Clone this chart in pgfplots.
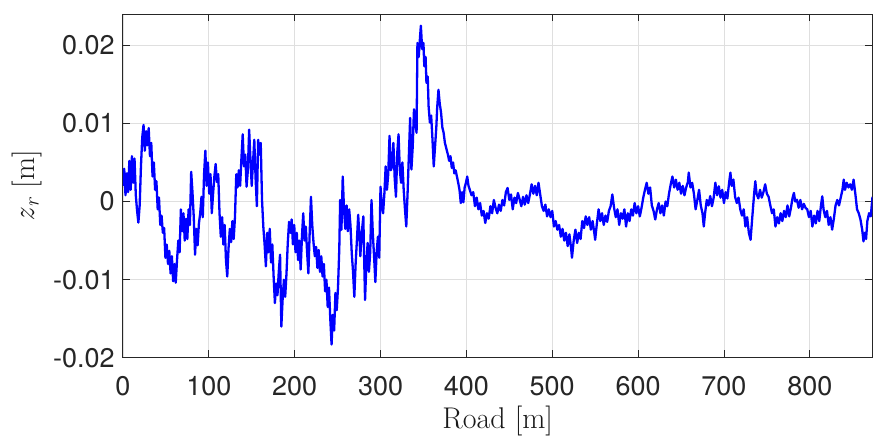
\documentclass[border=0pt]{standalone}
\usepackage{fontspec}
\usepackage{pgfplots}
\pgfplotsset{compat=1.18}
\newfontfamily\heros{TeX Gyre Heros}
\definecolor{axgray}{RGB}{38,38,38}
\definecolor{gridgray}{RGB}{223,223,223}
\begin{document}
\begin{tikzpicture}
\begin{axis}[
  at={(0,0)}, anchor=south west,
  scale only axis, width=750pt, height=344pt,
  xmin=0, xmax=873, ymin=-20, ymax=24,
  xtick={0,100,200,300,400,500,600,700,800},
  ytick={-20,-10,0,10,20},
  yticklabels={-0.02,-0.01,0,0.01,0.02},
  /pgf/number format/assume math mode=true,
  tick align=inside,
  major tick length=7.5pt,
  grid=major,
  major grid style={draw=gridgray, line width=0.8pt},
  axis line style={draw=axgray, line width=0.9pt},
  tick style={draw=axgray, line width=0.9pt},
  ticklabel style={font=\heros\fontsize{27}{32}\selectfont, text=axgray, inner sep=0pt},
  xticklabel style={anchor=north, yshift=-18pt},
  yticklabel style={anchor=east, xshift=-8pt},
  xlabel={Road [m]},
  ylabel={\textit{z}\textsubscript{\textit{r}} [m]},
  label style={font=\fontsize{30}{36}\selectfont, text=black!90},
  xlabel style={at={(axis description cs:0.5,0)}, anchor=base, yshift=-70.3pt},
  ylabel style={at={(axis description cs:-0.1273,0.5)}, anchor=center},
]
\addplot[color={rgb,255:red,0;green,0;blue,255}, line width=2.3pt, line join=round] coordinates {
(0,2.0) (1.5,4.2) (3,0.8) (4.5,3.6) (6,1.2) (7.5,5.2) (9,1.5) (10.5,5.8) (12,2.4) (13.5,5.5)
(15,0.8) (16.5,-1.2) (18,-2.7) (19.5,-0.5) (21,4.5) (22.5,8.2) (24,9.8) (25.5,6.5) (27,9.0) (28.5,7.2)
(30,9.4) (31.5,5.8) (33,7.5) (34.5,3.2) (36,5.0) (37.5,1.5) (39,2.6) (40.5,-1.0) (42,0.5) (43.5,-3.0)
(45,-1.8) (46.5,-4.0) (48,-3.4) (49.5,-7.2) (51,-5.5) (52.5,-8.0) (54,-6.3) (55.5,-9.2) (57,-7.0) (58.5,-10.2)
(60,-8.0) (61.5,-10.4) (63,-7.5) (64.5,-5.0) (66,-6.5) (67.5,-1.0) (69,-3.8) (70.5,-1.5) (72,-5.0) (73.5,-2.2)
(75,-4.8) (76.5,-1.0) (78,-3.0) (79.5,3.8) (81,1.2) (82.5,-2.0) (84,-6.8) (85.5,-3.5) (87,-5.6) (88.5,-2.8)
(90,-1.5) (91.5,0.6) (93,-2.0) (94.5,3.5) (96,6.5) (97.5,2.0) (99,5.0) (100.5,1.0) (102,3.5) (103.5,-1.5)
(105,1.0) (106.5,3.2) (108,4.8) (109.5,2.5) (111,3.5) (112.5,-1.5) (114,-4.5) (115.5,-2.0) (117,-5.5) (118.5,-3.0)
(120,-7.5) (121.5,-9.6) (123,-6.0) (124.5,-3.5) (126,-5.2) (127.5,-2.5) (129,-4.8) (130.5,-2.0) (132,3.5) (133.5,1.8)
(135,4.0) (136.5,2.0) (138,5.5) (139.5,8.6) (141,4.5) (142.5,6.0) (144,1.9) (145.5,4.0) (147,9.2) (148.5,5.5)
(150,2.0) (151.5,5.0) (153,7.9) (154.5,3.0) (156,-0.6) (157.5,7.9) (159,6.0) (160.5,7.5) (162,0.2) (163.5,-3.2)
(165,-5.5) (166.5,-8.3) (168,-4.0) (169.5,-6.5) (171,-3.5) (172.5,-7.8) (174,-5.5) (175.5,-9.6) (177,-13.0) (178.5,-10.5)
(180,-12.0) (181.5,-9.0) (183,-6.8) (184.5,-16.0) (186,-12.5) (187.5,-10.0) (189,-12.2) (190.5,-9.2) (192,-5.3) (193.5,-2.6)
(195,-4.0) (196.5,-2.3) (198,-5.5) (199.5,-3.0) (201,-6.5) (202.5,-4.0) (204,-7.5) (205.5,-5.0) (207,-8.7) (208.5,-4.5)
(210,-1.5) (211.5,-5.0) (213,-3.2) (214.5,-6.5) (216,-9.2) (217.5,-4.0) (219,0.6) (220.5,-3.0) (222,-5.3) (223.5,-7.0)
(225,-5.8) (226.5,-8.5) (228,-6.2) (229.5,-9.0) (231,-7.0) (232.5,-9.6) (234,-8.0) (235.5,-11.5) (237,-10.0) (238.5,-13.5)
(240,-11.0) (241.5,-15.0) (243,-18.3) (244.5,-14.5) (246,-16.5) (247.5,-11.7) (249,-13.9) (250.5,-11.0) (252,-6.0) (253,0.2)
(254.5,-3.6) (256,3.2) (257.5,-1.0) (259,-3.5) (260.5,-0.5) (262,-3.8) (263.5,-1.0) (265,-3.0) (266.5,-6.6) (268,-9.0)
(269.5,-12.2) (271,-8.0) (272.5,-5.0) (274,-1.7) (275.5,-4.5) (276.5,-7.0) (278,-4.2) (280,-1.9) (281,-7.5) (282,-12.6)
(283.5,-8.0) (285,-5.3) (286.5,-9.0) (288,-6.5) (289.5,0.2) (291,-4.0) (292.5,-7.0) (294,-10.3) (295.5,-6.5) (297,-4.5)
(298.5,-7.2) (300,1.9) (301.5,-0.5) (303,-1.5) (304.5,1.0) (306,4.5) (307.5,1.5) (309,3.5) (310.5,8.4) (312,4.0)
(313.5,4.5) (315,7.5) (316.5,3.0) (318,0.6) (319.5,6.2) (321,8.6) (322.5,4.0) (324,2.4) (325.5,5.0) (327,1.5)
(328.5,-1.0) (330,-3.2) (331.5,1.0) (333,5.8) (334.5,10.7) (336,4.1) (337.5,7.0) (339,11.8) (340.5,10.0) (342,8.8)
(343,20.3) (344.5,18.5) (346,21.0) (347,22.5) (348.5,19.5) (350,20.3) (351,17.3) (352.5,18.5) (353.5,15.2) (355,16.0)
(356,12.2) (357.5,10.1) (359,11.0) (360.5,8.0) (362,4.5) (363.5,7.0) (365,9.5) (366,12.0) (367.5,14.3) (369,12.5)
(370.5,11.4) (372,9.5) (373.5,8.8) (375,7.5) (377,6.65) (378.5,6.0) (380,5.2) (381.5,5.8) (383,4.3) (384.5,5.0)
(386,3.6) (387.5,4.0) (389,3.2) (390.5,2.4) (392,1.5) (393.5,-0.2) (395,1.2) (396.5,-0.1) (398,1.8) (399.5,2.4)
(401,3.2) (402.5,2.0) (404,1.5) (406,0.8) (408,1.2) (410,-0.6) (412,0.5) (414,-1.0) (416,-0.2) (418,-1.8)
(420,-1.2) (422,-2.75) (424,-1.5) (426,-2.2) (428,-0.6) (430,-1.5) (432,0.2) (434,-0.8) (436,-1.5) (438,-0.4)
(440,-1.2) (442,0.2) (444,-0.5) (446,1.2) (448,1.74) (450,0.2) (452,0.9) (454,-1.0) (456,0.5) (458,-0.2)
(460,1.1) (462,0.3) (464,-0.6) (466,0.6) (468,-0.4) (470,0.8) (472,-0.2) (474,0.9) (476,2.2) (478,1.0)
(480,2.0) (482,0.8) (484,2.4) (486,0.9) (488,-0.6) (490,-1.2) (492,-0.4) (494,-1.9) (496,-1.0) (498,-2.0)
(500,-1.2) (502,-3.2) (504,-2.5) (506,-3.6) (508,-3.0) (510,-4.5) (512,-3.5) (514,-5.0) (516,-4.0) (518,-5.7)
(520,-4.2) (522,-6.0) (523,-7.2) (525,-5.0) (527,-3.6) (529,-5.3) (531,-4.0) (533,-4.8) (535,-2.5) (537,-3.4)
(539,-1.9) (541,-3.0) (543,-2.0) (545,-3.6) (547,-2.5) (549,-4.0) (550,-4.9) (552,-2.8) (554,-1.0) (556,-2.5)
(558,-1.5) (560,-3.0) (562,-1.8) (564,-2.6) (566,-1.2) (568,-0.6) (570,0.9) (572,-0.8) (574,-2.0) (576,-1.0)
(578,-3.0) (580,-1.5) (582,-2.2) (584,-1.0) (586,-3.2) (588,-1.5) (590,-2.5) (592,-1.0) (594,-1.8) (596,-0.2)
(598,-1.5) (600,-0.6) (602,-1.9) (604,-0.8) (606,0.5) (608,1.5) (610,2.4) (612,1.0) (614,1.8) (616,-0.5)
(618,-1.2) (620,-2.3) (622,-1.0) (624,-0.2) (626,-1.5) (628,-0.5) (630,-1.8) (632,0.0) (634,-0.6) (636,1.0)
(638,2.2) (640,3.2) (642,1.8) (644,2.8) (646,1.5) (648,2.4) (650,1.0) (652,2.0) (654,0.8) (656,1.8)
(658,2.5) (659,3.7) (661,1.8) (663,2.4) (665,1.0) (667,-1.0) (669,0.2) (671,1.5) (673,-0.5) (675,-1.5)
(676.5,-3.2) (678,-1.5) (680,0.2) (682,-0.5) (684,0.7) (686,-0.6) (688,0.5) (690,2.4) (692,0.8) (694,1.95)
(696,0.5) (698,1.5) (700,-0.2) (702,1.2) (704,0.4) (706,2.4) (707.5,3.7) (709,2.0) (711,2.8) (713,0.6)
(715,-0.2) (717,0.5) (719,-1.0) (721,-1.8) (723,-1.0) (725,-3.2) (727,-2.0) (729,-4.0) (731,-4.9) (733,-2.0)
(735,0.8) (736.5,2.6) (738,1.0) (740,0.4) (742,1.5) (744,0.5) (746,1.2) (748,2.2) (750,1.0) (752,0.6)
(754,-0.5) (756,-1.5) (758,-1.0) (760,-3.2) (762,-2.0) (764,-2.8) (766,-1.5) (768,-2.5) (770,-1.2) (772,-2.0)
(774,-0.5) (776,-1.9) (778,-0.8) (780,0.5) (781.5,1.1) (783,0.0) (785,0.24) (787,-0.8) (789,0.2) (791,-1.0)
(793,-0.3) (795,-0.8) (797,-1.0) (799,-2.0) (801,-1.2) (803,-3.2) (805,-1.8) (807,-2.8) (809,-1.2) (811,-2.5)
(813,-0.5) (814.5,0.67) (816,-1.0) (818,-2.0) (820,-1.2) (822,-3.0) (824,-2.0) (826,-3.6) (828,-2.2) (830,-0.5)
(832,0.2) (834,-0.5) (836,0.5) (838,1.5) (839.5,2.8) (841,1.5) (843,2.4) (845,1.8) (847,2.2) (849,1.5)
(851,2.8) (853,1.0) (855,-1.0) (857,-1.5) (859,-2.3) (861,-3.6) (862.5,-5.1) (864,-4.0) (865.5,-4.8) (867,-2.5)
(869,-1.5) (871,-1.9) (873,0.6)
};
\end{axis}
\pgfresetboundingbox
\path (-123pt,-81pt) rectangle (750.5pt,358pt);
\end{tikzpicture}
\end{document}
